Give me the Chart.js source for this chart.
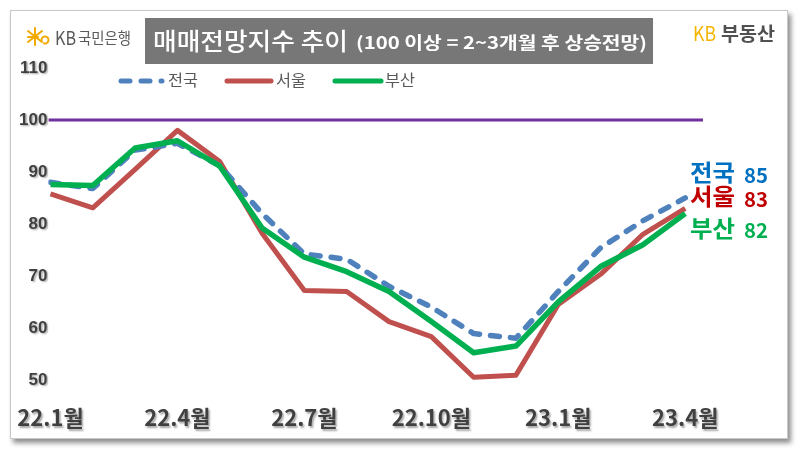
<!DOCTYPE html>
<html><head><meta charset="utf-8">
<script src="https://cdn.jsdelivr.net/npm/chart.js@4"></script>
<style>
html,body{margin:0;padding:0;background:#fff;width:800px;height:451px;overflow:hidden}
#card{position:absolute;left:10px;top:10px;width:776px;height:427px;border:1px solid #c8c8c8;background:#fff;box-shadow:3px 4px 5px rgba(0,0,0,0.45)}
#c{position:absolute;left:0;top:0}
</style></head><body>
<div id="card"></div>
<canvas id="c" width="800" height="451"></canvas>
<script>
const months = ['22.1','22.2','22.3','22.4','22.5','22.6','22.7','22.8','22.9','22.10','22.11','22.12','23.1','23.2','23.3','23.4'];
const national = [88, 86.8, 94.2, 95.5, 91.2, 82, 74.2, 73.2, 68, 64, 58.9, 58, 67, 75.4, 80.6, 85];
const seoul    = [85.8, 83.1, 90.5, 98, 92, 78.2, 67.2, 67, 61.2, 58.3, 50.5, 50.9, 64.5, 70.3, 78, 83];
const busan    = [87.6, 87.4, 94.6, 96, 91.1, 79.2, 73.6, 70.8, 67, 61.2, 55.2, 56.5, 65, 71.8, 76, 82];
const xTickIndex = [0, 3, 6, 9, 12, 15];
const xTickLabels = ['22.1월', '22.4월', '22.7월', '22.10월', '23.1월', '23.4월'];
const yTicks = [50, 60, 70, 80, 90, 100, 110];
const baseline = 100;

const X_MIN = -0.05, X_MAX = 15.42;
const toXY = arr => arr.map((v, i) => ({x: i, y: v}));

function fitText(c, text, x, y, w, font, color) {
  c.save();
  c.font = font; c.fillStyle = color; c.textBaseline = 'middle'; c.textAlign = 'left';
  const m = c.measureText(text).width;
  c.translate(x, y); c.scale(w / m, 1); c.fillText(text, 0, 0);
  c.restore();
}

const decor = {
  id: 'decor',
  beforeDraw(chart) {
    const c = chart.ctx; c.save();
    c.shadowColor = 'rgba(0,0,0,0.35)'; c.shadowOffsetX = 1.5; c.shadowOffsetY = 1.5; c.shadowBlur = 2;
  },
  beforeDatasetsDraw(chart) { chart.ctx.restore(); },
  afterDraw(chart) {
    const c = chart.ctx;
    // KB logo
    c.save();
    c.strokeStyle = '#f2a900'; c.lineWidth = 2; c.lineCap = 'round';
    c.beginPath();
    c.moveTo(35, 28); c.lineTo(35, 45);
    c.moveTo(28, 31); c.lineTo(42, 42);
    c.moveTo(42, 31); c.lineTo(28, 42);
    c.moveTo(28, 37); c.lineTo(38, 37);
    c.stroke();
    c.beginPath(); c.arc(45, 40, 3.5, Math.PI * 0.9, Math.PI * 2.6); c.stroke();
    c.restore();
    fitText(c, 'KB', 55, 37.5, 21, '19px "Noto Sans CJK KR"', '#595959');
    fitText(c, '국민은행', 78, 37.5, 53, '16px "Noto Sans CJK KR"', '#595959');
    // title box
    c.fillStyle = '#777777'; c.fillRect(145, 18, 508, 46);
    fitText(c, '매매전망지수 추이', 153, 41, 195, '500 24px "Noto Sans CJK KR"', '#ffffff');
    fitText(c, '(100 이상 = 2~3개월 후 상승전망)', 356, 43, 291, 'bold 17px "Noto Sans CJK KR"', '#ffffff');
    // KB부동산
    fitText(c, 'KB', 693, 33.5, 23, '20px "Noto Sans CJK KR"', '#f5b400');
    fitText(c, '부동산', 721, 33.5, 54, 'bold 19px "Noto Sans CJK KR"', '#505050');
    // legend
    c.save(); c.lineWidth = 5; c.lineCap = 'round';
    c.strokeStyle = '#4f81bd'; c.setLineDash([9, 11]); c.beginPath(); c.moveTo(121, 81); c.lineTo(162, 81); c.stroke();
    c.setLineDash([]);
    c.strokeStyle = '#c0504d'; c.beginPath(); c.moveTo(227, 81); c.lineTo(271, 81); c.stroke();
    c.strokeStyle = '#00b050'; c.beginPath(); c.moveTo(335, 81); c.lineTo(381, 81); c.stroke();
    c.restore();
    fitText(c, '전국', 168, 80, 30, '16px "Noto Sans CJK KR"', '#595959');
    fitText(c, '서울', 276, 80, 30, '16px "Noto Sans CJK KR"', '#595959');
    fitText(c, '부산', 385, 80, 30, '16px "Noto Sans CJK KR"', '#595959');
    // right end labels
    const endLabels = [
      ['전국', national, '#0070c0', 172, 175],
      ['서울', seoul, '#c00000', 196, 199],
      ['부산', busan, '#00b050', 228, 230]
    ];
    endLabels.forEach(([name, arr, col, y1, y2]) => {
      fitText(c, name, 690, y1, 45, 'bold 23px "Noto Sans CJK KR"', col);
      fitText(c, String(Math.round(arr[arr.length - 1])), 744, y2, 24, 'bold 20px "Noto Sans CJK KR"', col);
    });
  }
};

new Chart(document.getElementById('c').getContext('2d'), {
  type: 'line',
  data: {
    datasets: [
      {label: '부산', data: toXY(busan), borderColor: '#00b050', borderWidth: 5.5, order: 0},
      {label: '전국', data: toXY(national), borderColor: '#4f81bd', borderWidth: 5.5, borderDash: [9, 11], borderCapStyle: 'round', order: 1},
      {label: '서울', data: toXY(seoul), borderColor: '#c0504d', borderWidth: 5, order: 2},
      {label: '기준', data: [{x: X_MIN, y: baseline}, {x: X_MAX, y: baseline}], borderColor: '#7030a0', borderWidth: 3, order: 3}
    ]
  },
  options: {
    responsive: false, animation: false, devicePixelRatio: 1,
    layout: {padding: {top: 68, left: 18, right: 97, bottom: 16}},
    elements: {point: {radius: 0}, line: {tension: 0, borderJoinStyle: 'round', fill: false}},
    plugins: {legend: {display: false}, tooltip: {enabled: false}},
    scales: {
      x: {
        type: 'linear', min: X_MIN, max: X_MAX,
        grid: {display: false, drawTicks: false}, border: {display: false},
        afterBuildTicks: s => { s.ticks = xTickIndex.map(v => ({value: v})); },
        ticks: {autoSkip: false, maxRotation: 0, padding: 4, color: '#404040',
          font: {family: '"Noto Sans CJK KR"', size: 22, weight: 'bold'},
          callback: v => xTickLabels[xTickIndex.indexOf(v)]}
      },
      y: {
        min: 46, max: 110,
        grid: {display: false, drawTicks: false}, border: {display: false},
        afterBuildTicks: s => { s.ticks = yTicks.map(v => ({value: v})); },
        ticks: {padding: 1, color: '#404040', font: {family: '"Liberation Sans"', size: 17, weight: 'bold'}}
      }
    }
  },
  plugins: [decor]
});
</script>
</body></html>
